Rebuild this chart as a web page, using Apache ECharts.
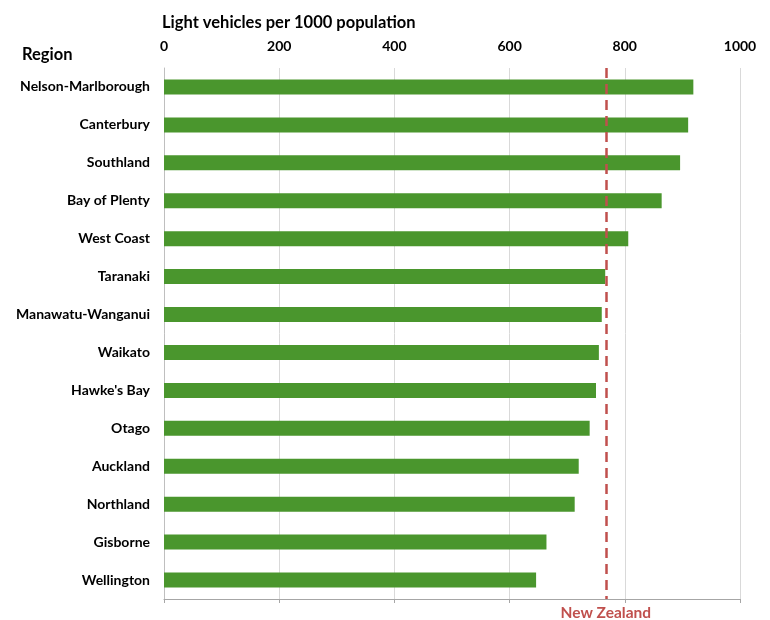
<!DOCTYPE html>
<html><head><meta charset="utf-8">
<script src="https://cdn.jsdelivr.net/npm/echarts@6/dist/echarts.min.js"></script>
<style>html,body{margin:0;padding:0;background:#fff}#c{width:770px;height:620px}</style>
</head><body><div id="c"></div>
<script>
const regions = ["Nelson-Marlborough","Canterbury","Southland","Bay of Plenty","West Coast","Taranaki","Manawatu-Wanganui","Waikato","Hawke's Bay","Otago","Auckland","Northland","Gisborne","Wellington"];
const vehiclesPer1000 = [919,910,896,864,806,766,760,755,750,739,720,713,664,646];
const nzAverage = 767;
const xTicks = [0,200,400,600,800,1000];

const FONT = "Lato, 'Open Sans', sans-serif";
const chart = echarts.init(document.getElementById('c'), null, {renderer:'canvas'});
chart.setOption({
  animation:false,
  textStyle:{fontFamily:FONT},
  grid:{left:164, right:30, top:68, bottom:21, containLabel:false},
  title:[
    {text:'Light vehicles per 1000 population', left:157, top:9, textStyle:{fontFamily:FONT, fontSize:16.5, fontWeight:'bold', color:'#000'}},
    {text:'Region', left:17, top:41, textStyle:{fontFamily:FONT, fontSize:16.5, fontWeight:'bold', color:'#000'}}
  ],
  xAxis:[
    {type:'value', position:'top', min:xTicks[0], max:xTicks[xTicks.length-1], interval:200,
     axisLine:{show:false}, axisTick:{show:false},
     axisLabel:{fontFamily:FONT, fontSize:14, fontWeight:'bold', color:'#000', margin:15, formatter:v=>String(v)},
     splitLine:{show:true, lineStyle:{color:'#d9d9d9', width:1}}},
    {type:'value', position:'bottom', min:xTicks[0], max:xTicks[xTicks.length-1], interval:200,
     axisLine:{show:true, lineStyle:{color:'#a6a6a6', width:1}},
     axisTick:{show:true, length:4, lineStyle:{color:'#a6a6a6'}},
     axisLabel:{show:false}, splitLine:{show:false}}
  ],
  yAxis:{type:'category', data:regions, inverse:true,
    axisLine:{show:true, lineStyle:{color:'#bfbfbf', width:1}}, axisTick:{show:false},
    axisLabel:{fontFamily:FONT, fontSize:14, fontWeight:'bold', color:'#000', margin:14}},
  series:[{
    type:'bar', xAxisIndex:0, data:vehiclesPer1000, barWidth:15,
    itemStyle:{color:'#4a962d'},
    markLine:{symbol:'none', silent:true,
      lineStyle:{color:'#c0504d', type:[10,6], width:2.5},
      label:{show:true, position:'end', formatter:'New Zealand', fontFamily:FONT, fontSize:15.5, fontWeight:'bold', color:'#c0504d', distance:6},
      data:[{xAxis:nzAverage}]}
  }]
});
</script></body></html>
